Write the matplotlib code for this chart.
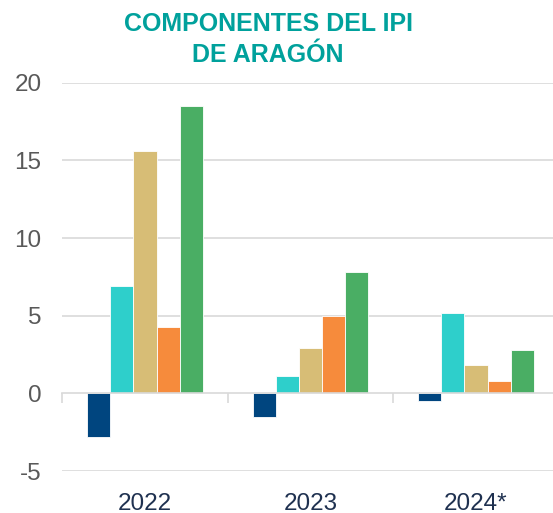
import matplotlib
matplotlib.use("Agg")
import matplotlib.pyplot as plt
import numpy as np

categories = ["2022", "2023", "2024*"]
series_1 = [-2.8, -1.5, -0.5]
series_2 = [6.9, 1.1, 5.2]
series_3 = [15.6, 2.9, 1.8]
series_4 = [4.3, 5.0, 0.8]
series_5 = [18.5, 7.8, 2.8]
yticks = [-5, 0, 5, 10, 15, 20]

colors = ["#00457F", "#2ECFCB", "#D7BD76", "#F68B3C", "#4AAE64"]
series = [series_1, series_2, series_3, series_4, series_5]

plt.rcParams["font.family"] = ["Liberation Sans", "DejaVu Sans"]

fig = plt.figure(figsize=(5.53, 5.13), dpi=100)
W, H = 553, 513
left_px, right_px = 62.3, 558.8
top_px, bot_px = 82.7, 471.0
ax = fig.add_axes([left_px / W, 1 - bot_px / H, (right_px - left_px) / W, (bot_px - top_px) / H])

x = np.arange(len(categories))
bw = 0.14
for i, (vals, c) in enumerate(zip(series, colors)):
    ax.bar(x + (i - 2) * bw, vals, width=bw, color=c, edgecolor="white",
           linewidth=0.6, zorder=3)

ax.set_xlim(-0.5, 2.5)
ax.set_ylim(-5, 20)
ax.set_yticks(yticks)
ax.set_yticklabels([str(t) for t in yticks], fontsize=17.5, color="#595959")
ax.tick_params(axis="y", length=0, pad=15)
for t in yticks:
    if t != 0:
        ax.axhline(t, color="#D9D9D9", linewidth=1.2, zorder=1)

for s in ["top", "right", "left"]:
    ax.spines[s].set_visible(False)
ax.spines["bottom"].set_position(("data", 0))
ax.spines["bottom"].set_color("#D9D9D9")
ax.spines["bottom"].set_linewidth(1.2)
ax.spines["bottom"].set_zorder(4)
ax.set_xticks([-0.5, 0.5, 1.5, 2.5])
ax.set_xticklabels([])
ax.tick_params(axis="x", length=7, width=1.2, color="#D9D9D9", direction="out")

sec = ax.secondary_xaxis(0.0)
sec.set_xticks(x)
sec.set_xticklabels(categories, fontsize=17.5, color="#1F3150")
sec.tick_params(length=0, pad=15.5)
sec.spines["bottom"].set_visible(False)

title_color = "#00A19C"
fig.text(0.485, 1 - 30.7 / H, "COMPONENTES DEL IPI", ha="center", va="baseline",
         fontsize=18, fontweight="bold", color=title_color)
fig.text(0.485, 1 - 61.7 / H, "DE ARAGÓN", ha="center", va="baseline",
         fontsize=18, fontweight="bold", color=title_color)

fig.savefig("out.png", dpi=100)
